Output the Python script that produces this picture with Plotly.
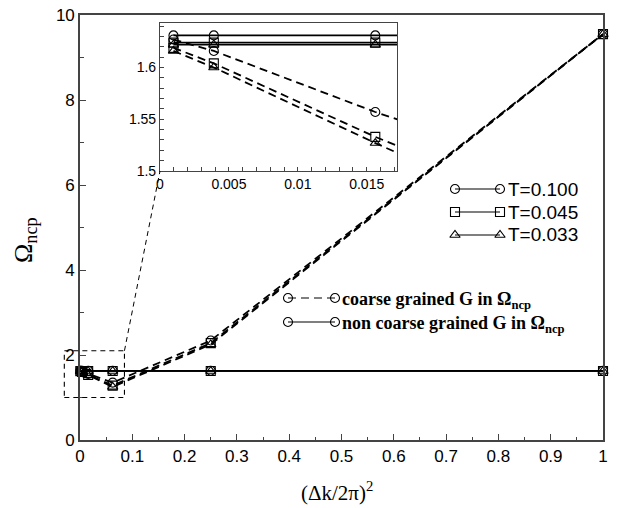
import plotly.graph_objects as go

# ---------------- data ----------------
dk2 = [1/1024, 1/256, 1/64, 1/16, 1/4, 1.0]          # (Δk/2π)^2
temps = ["T=0.100", "T=0.045", "T=0.033"]
symbols = ["circle-open", "square-open", "triangle-up-open"]
coarse = [
    [1.627, 1.616, 1.557, 1.35, 2.34, 9.55],
    [1.619, 1.604, 1.533, 1.28, 2.28, 9.55],
    [1.616, 1.600, 1.527, 1.25, 2.25, 9.55],
]
noncoarse = [
    [1.631, 1.631, 1.631, 1.631, 1.631, 1.631],
    [1.624, 1.624, 1.624, 1.624, 1.624, 1.624],
    [1.622, 1.622, 1.622, 1.622, 1.622, 1.622],
]
main_xticks = [round(0.1 * i, 1) for i in range(11)]
main_yticks = [0, 2, 4, 6, 8, 10]
inset_xticks = [0, 0.005, 0.01, 0.015]
inset_yticks = [1.5, 1.55, 1.6]

# ---------------- layout geometry (reference pixels) ----------------
OFF = 8                                 # page body margin
W, H = 623 - OFF, 508 - OFF
L, R, T, B = 80, 603, 15, 440          # plot area in page pixels
XR = [0, 1]
YR = [0, 10]
IX = [0, 0.0172]
IY = [1.5, 1.643]

def px(x):  # page pixel x -> paper
    return (x - L) / (R - L)

def py(y):  # page pixel y -> paper
    return (B - y) / (B - T)

def dx(v):  # data x -> paper
    return (v - XR[0]) / (XR[1] - XR[0])

def dy(v):
    return (v - YR[0]) / (YR[1] - YR[0])

inset_dom_x = [px(160), px(397)]
inset_dom_y = [py(171), py(23)]

DASH = "8px,5px"
fig = go.Figure()

for i in range(3):
    for ax, clip in (("", False), ("2", True)):
        xa = "x" + ax
        ya = "y" + ax
        fig.add_trace(go.Scatter(
            x=dk2, y=coarse[i], mode="lines+markers", xaxis=xa, yaxis=ya,
            line=dict(color="black", width=1.8, dash=DASH),
            marker=dict(symbol=symbols[i], size=9, color="black", line=dict(width=1.1, color="black")),
            cliponaxis=clip, showlegend=False))
        fig.add_trace(go.Scatter(
            x=dk2, y=noncoarse[i], mode="lines+markers", xaxis=xa, yaxis=ya,
            line=dict(color="black", width=1.6),
            marker=dict(symbol=symbols[i], size=9, color="black", line=dict(width=1.1, color="black")),
            cliponaxis=clip, showlegend=False))

# ---------------- manual legends (overlay axis in page pixel units) ----------------
leg1_y = [189, 212, 235]
for i in range(3):
    fig.add_trace(go.Scatter(
        x=[455, 500], y=[leg1_y[i], leg1_y[i]], mode="lines+markers", xaxis="x3", yaxis="y3",
        line=dict(color="black", width=1.2),
        marker=dict(symbol=symbols[i], size=9, color="black", line=dict(width=1.1, color="black")),
        cliponaxis=False, showlegend=False, hoverinfo="skip"))
leg2_y = [298, 322]
for j, dsh in enumerate([DASH, "solid"]):
    fig.add_trace(go.Scatter(
        x=[288, 335], y=[leg2_y[j], leg2_y[j]], mode="lines+markers", xaxis="x3", yaxis="y3",
        line=dict(color="black", width=1.2, dash=dsh),
        marker=dict(symbol="circle-open", size=9, color="black", line=dict(width=1.1, color="black")),
        cliponaxis=False, showlegend=False, hoverinfo="skip"))

annotations = []
for i in range(3):
    annotations.append(dict(x=px(506), y=py(leg1_y[i]), xref="paper", yref="paper",
                            text=temps[i], showarrow=False, xanchor="left", yanchor="middle",
                            font=dict(family="Liberation Sans", size=19, color="black")))
leg2_text = ["<b>coarse grained G in \u03a9<sub>ncp</sub></b>",
             "<b>non coarse grained G in \u03a9<sub>ncp</sub></b>"]
for j in range(2):
    annotations.append(dict(x=px(340), y=py(leg2_y[j] + 2), xref="paper", yref="paper",
                            text=leg2_text[j], showarrow=False, xanchor="left", yanchor="middle",
                            font=dict(family="Liberation Serif", size=18, color="black")))
# axis titles
annotations.append(dict(x=px(337), y=py(491), xref="paper", yref="paper",
                        text="(\u0394k/2\u03c0)<sup>2</sup>", showarrow=False,
                        xanchor="center", yanchor="middle",
                        font=dict(family="Liberation Serif", size=21, color="black")))
annotations.append(dict(x=px(25), y=py(240), xref="paper", yref="paper",
                        text="\u03a9<sub>ncp</sub>", showarrow=False, textangle=-90,
                        xanchor="center", yanchor="middle",
                        font=dict(family="Liberation Serif", size=26, color="black")))

# ---------------- shapes: zoom rectangle and connector ----------------
shapes = [
    dict(type="rect", xref="paper", yref="paper",
         x0=dx(-0.03), x1=dx(0.085), y0=dy(1.0), y1=dy(2.1),
         line=dict(color="black", width=1.1, dash="5px,4px"), layer="above"),
    dict(type="line", xref="paper", yref="paper",
         x0=dx(0.085), y0=dy(2.1), x1=inset_dom_x[0], y1=inset_dom_y[0],
         line=dict(color="black", width=1.0, dash="5px,4px"), layer="above"),
]

axis_common = dict(showgrid=False, zeroline=False, showline=True, linecolor="#444",
                   ticks="inside", tickcolor="#444", color="black",
                   ticklabeloverflow="allow", automargin=False)

fig.update_layout(
    width=W, height=H,
    margin=dict(l=L - OFF, r=W - (R - OFF), t=T - OFF, b=H - (B - OFF), pad=0, autoexpand=False),
    paper_bgcolor="white", plot_bgcolor="white",
    showlegend=False,
    annotations=annotations, shapes=shapes,
    xaxis=dict(range=XR, domain=[0, 1], tickvals=main_xticks, ticklen=6, linewidth=1.6,
               mirror=True, tickfont=dict(family="Liberation Sans", size=17, color="black"),
               minor=dict(dtick=0.05, ticklen=3, ticks="inside", tickcolor="#444"),
               anchor="y", **axis_common),
    yaxis=dict(range=YR, domain=[0, 1], tickvals=main_yticks, ticklen=6, linewidth=1.6,
               mirror=True, tickfont=dict(family="Liberation Sans", size=17, color="black"),
               minor=dict(dtick=1, ticklen=4, ticks="inside", tickcolor="#444"),
               anchor="x", **axis_common),
    xaxis2=dict(range=IX, domain=inset_dom_x, tickvals=inset_xticks, ticktext=["0", "0.005", "0.01", "0.015"],
                ticklen=4, linewidth=1.1, mirror=True,
                tickfont=dict(family="Liberation Sans", size=14, color="black"),
                minor=dict(dtick=0.001, ticklen=4, ticks="inside", tickcolor="#444"),
                anchor="y2", **axis_common),
    yaxis2=dict(range=IY, domain=inset_dom_y, tickvals=inset_yticks, ticktext=["1.5", "1.55", "1.6"],
                ticklen=4, linewidth=1.1, mirror=True,
                tickfont=dict(family="Liberation Sans", size=14, color="black"),
                minor=dict(dtick=0.01, ticklen=4, ticks="inside", tickcolor="#444"),
                anchor="x2", **axis_common),
    xaxis3=dict(range=[L, R], domain=[0, 1], visible=False, anchor="y3", overlaying="x", automargin=False),
    yaxis3=dict(range=[B, T], domain=[0, 1], visible=False, anchor="x3", overlaying="y", automargin=False),
)

fig.write_html("out.html")
